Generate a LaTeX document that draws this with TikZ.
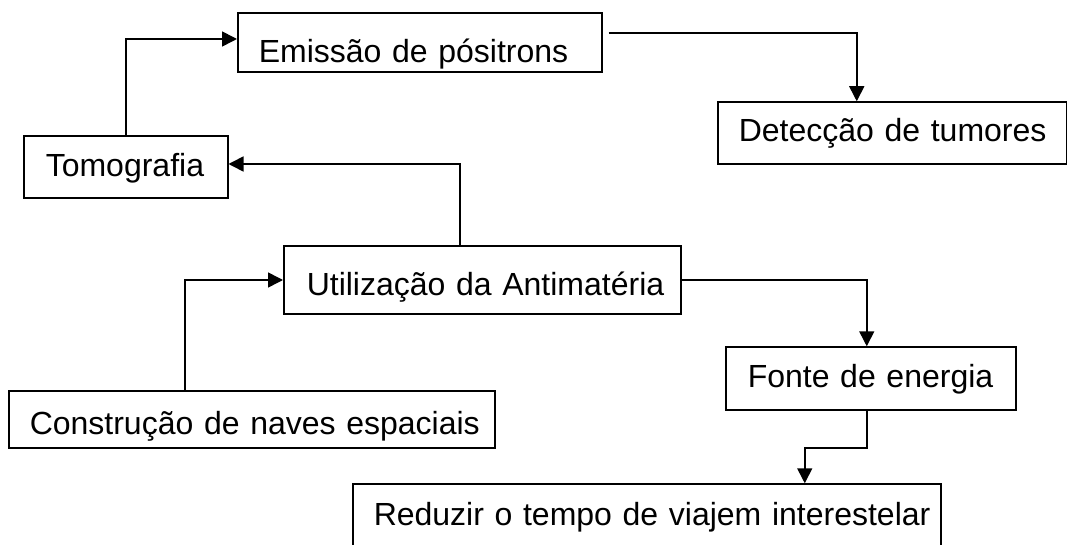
\documentclass[tikz,border=0pt]{standalone}
\usepackage{fontspec}
\setmainfont{Liberation Sans}
\usetikzlibrary{arrows.meta}
\begin{document}
\begin{tikzpicture}[x=1pt,y=-1pt,
  box/.style={draw, line width=1.5pt, anchor=base west, inner ysep=0pt,
    align=left, font=\fontsize{32}{38}\selectfont},
  conn/.style={line width=1.6pt, -{Triangle[length=15pt,width=15pt]}}]
\clip (0,0) rectangle (1067,545);
\fill[white] (0,0) rectangle (1067,545);
% boxes
\node[box, inner xsep=21pt, text width=322pt, text height=50pt, text depth=9pt]
  (emi) at (237,63) {\mbox{Emissão de pósitrons}};
\node[box, inner xsep=21pt, text width=307pt, text height=40pt, text depth=22pt]
  (det) at (717,142) {\mbox{Detecção de tumores}};
\node[box, inner xsep=22pt, text width=160pt, text height=41pt, text depth=21pt]
  (tom) at (23,177) {\mbox{Tomografia}};
\node[box, inner xsep=23pt, text width=351pt, text height=49pt, text depth=19pt]
  (uti) at (283,295) {\mbox{Utilização da Antimatéria}};
\node[box, inner xsep=21pt, text width=444pt, text height=43pt, text depth=14pt]
  (con) at (8,434) {\mbox{Construção de naves espaciais}};
\node[box, inner xsep=22pt, text width=246pt, text height=40pt, text depth=23pt]
  (fon) at (725,387) {\mbox{Fonte de energia}};
\node[box, inner xsep=21pt, text width=546pt, text height=41pt, text depth=45pt]
  (red) at (352,525) {\mbox{Reduzir o tempo de viajem interestelar}};
% connectors
\draw[conn] (tom.north) |- ([yshift=3.5pt]emi.west);
\draw[conn] ([xshift=6pt,yshift=9.5pt]emi.east) -| ([xshift=-35.5pt]det.north);
\draw[conn] ([xshift=-22.5pt]uti.north) |- ([yshift=3pt]tom.east);
\draw[conn] ([xshift=-67pt]con.north) |- (uti.west);
\draw[conn] (uti.east) -| ([xshift=-4pt]fon.north);
\draw[conn] ([xshift=-4pt]fon.south) -- ++(0pt,-37pt) -| ([xshift=158pt]red.north);
\end{tikzpicture}
\end{document}
